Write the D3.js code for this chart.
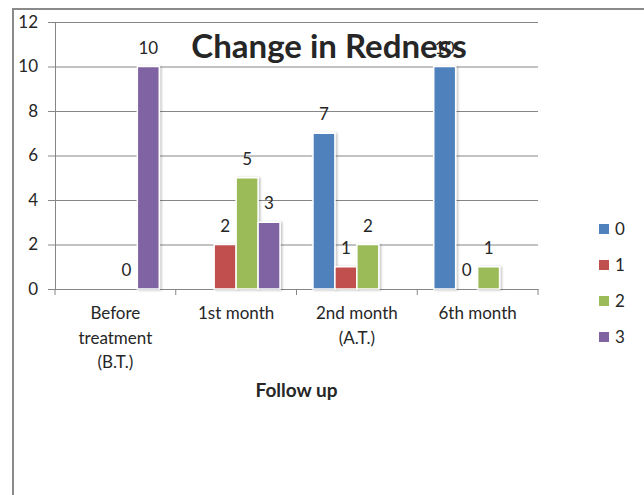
<!DOCTYPE html>
<html>
<head>
<meta charset="utf-8">
<script src="https://cdn.jsdelivr.net/npm/d3@7"></script>
<style>
  body { margin: 0; background: white; }
  svg text { font-family: Lato, "Liberation Sans", sans-serif; fill: #262626; }
</style>
</head>
<body>
<div id="canvas"></div>
<script>
// chart data
const categories = [["Before", "treatment", "(B.T.)"], ["1st month"], ["2nd month", "(A.T.)"], ["6th month"]];
const seriesNames = ["0", "1", "2", "3"];
const seriesColors = ["#4F81BD", "#C0504D", "#9BBB59", "#8064A2"];
// null = no bar / no label
const s0 = [null, null, 7, 10];
const s1 = [null, 2, 1, 0];
const s2 = [0, 5, 2, 1];
const s3 = [10, 3, null, null];
const yTicks = [0, 2, 4, 6, 8, 10, 12];

const allSeries = [s0, s1, s2, s3];

const width = 644;
const height = 495;
const marginLeft = 55;
const plotRight = 538;
const plotTop = 22;
const plotBottom = 289;

const svg = d3.select("#canvas")
    .append("svg")
    .attr("width", width)
    .attr("height", height);

// little shadow like excel bars
const defs = svg.append("defs");
defs.append("filter")
    .attr("id", "shadow")
    .attr("x", "-20%").attr("y", "-10%").attr("width", "150%").attr("height", "130%")
  .append("feDropShadow")
    .attr("dx", 1.5).attr("dy", 0.5)
    .attr("stdDeviation", 1)
    .attr("flood-color", "#000")
    .attr("flood-opacity", 0.25);

// frame
svg.append("path")
    .attr("d", `M13,${height} L13,9 L${width},9`)
    .attr("fill", "none")
    .attr("stroke", "#8a8a8a")
    .attr("stroke-width", 2);

const catIdx = categories.map((d, i) => i);

const x0 = d3.scaleBand()
    .domain(catIdx)
    .range([marginLeft, plotRight])
    .padding(0);

const x1 = d3.scaleBand()
    .domain(seriesNames)
    .range([0, x0.bandwidth()])
    .paddingInner(0)
    .paddingOuter(0.75);

const y = d3.scaleLinear()
    .domain([0, 12])
    .range([plotBottom, plotTop]);

// gridlines + y axis
svg.append("g")
    .attr("transform", `translate(${marginLeft},0)`)
    .call(d3.axisLeft(y).tickValues(yTicks).tickSize(7).tickPadding(10))
    .call(g => g.selectAll(".tick line").clone()
        .attr("x2", plotRight - marginLeft)
        .attr("stroke", "#868686"))
    .call(g => g.selectAll("line, .domain").attr("stroke", "#868686"))
    .call(g => g.selectAll("text")
        .attr("font-size", 17)
        .attr("fill", "#262626"));

// x axis
svg.append("g")
    .attr("transform", `translate(0,${plotBottom})`)
    .call(d3.axisBottom(x0).tickValues([]).tickSizeOuter(0))
    .call(g => g.select(".domain").attr("stroke", "#868686"));

// category boundary ticks
svg.append("g")
    .selectAll("line")
    .data(d3.range(categories.length + 1))
    .join("line")
        .attr("x1", i => i < categories.length ? x0(i) : plotRight)
        .attr("x2", i => i < categories.length ? x0(i) : plotRight)
        .attr("y1", plotBottom)
        .attr("y2", plotBottom + 6)
        .attr("stroke", "#868686");

// category labels
svg.append("g")
    .selectAll("text")
    .data(categories)
    .join("text")
        .attr("x", (d, i) => x0(i) + x0.bandwidth() / 2)
        .attr("y", 319)
        .attr("text-anchor", "middle")
        .attr("font-size", 17)
    .selectAll("tspan")
    .data(d => d)
    .join("tspan")
        .attr("x", function() { return this.parentNode.getAttribute("x"); })
        .attr("dy", (d, i) => i === 0 ? 0 : 24.5)
        .text(d => d);

// bars
const bars = [];
allSeries.forEach((vals, si) => {
    vals.forEach((v, ci) => {
        if (v !== null) bars.push({ s: si, c: ci, v: v });
    });
});

svg.append("g")
    .selectAll("rect")
    .data(bars.filter(d => d.v > 0))
    .join("rect")
        .attr("x", d => x0(d.c) + x1(seriesNames[d.s]))
        .attr("y", d => y(d.v))
        .attr("width", x1.bandwidth())
        .attr("height", d => y(0) - y(d.v))
        .attr("fill", d => seriesColors[d.s])
        .attr("stroke", "white")
        .attr("stroke-width", 1.5)
        .attr("filter", "url(#shadow)");

// value labels
svg.append("g")
    .selectAll("text")
    .data(bars)
    .join("text")
        .attr("x", d => x0(d.c) + x1(seriesNames[d.s]) + x1.bandwidth() / 2)
        .attr("y", d => y(d.v) - 13)
        .attr("text-anchor", "middle")
        .attr("font-size", 17)
        .text(d => d.v);

// axis title
svg.append("text")
    .attr("x", (marginLeft + plotRight) / 2)
    .attr("y", 397)
    .attr("text-anchor", "middle")
    .attr("font-size", 19)
    .attr("font-weight", "bold")
    .attr("fill", "#000")
    .text("Follow up");

// legend
const legend = svg.append("g");
legend.selectAll("rect")
    .data(seriesNames)
    .join("rect")
        .attr("x", 599)
        .attr("y", (d, i) => 224 + i * 36)
        .attr("width", 10)
        .attr("height", 10)
        .attr("fill", (d, i) => seriesColors[i]);

legend.selectAll("text")
    .data(seriesNames)
    .join("text")
        .attr("x", 615)
        .attr("y", (d, i) => 235 + i * 36)
        .attr("font-size", 17)
        .text(d => d);

// title on top (overlaps the "10" label like the original)
svg.append("text")
    .attr("x", 329)
    .attr("y", 58)
    .attr("text-anchor", "middle")
    .attr("font-size", 33)
    .attr("font-weight", "bold")
    .attr("fill", "#000")
    .text("Change in Redness");
</script>
</body>
</html>
